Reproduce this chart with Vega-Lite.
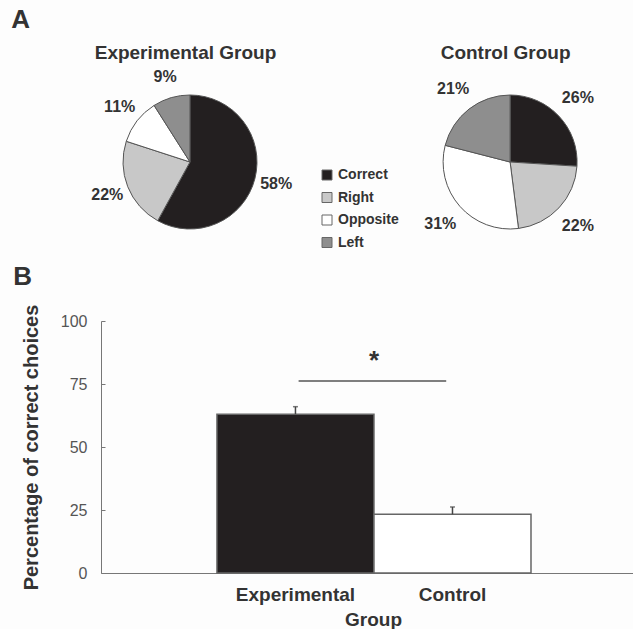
{
  "$schema": "https://vega.github.io/schema/vega-lite/v6.json",
  "background": "#fdfdfd",
  "padding": {"left": 11, "top": 7, "right": 0, "bottom": 0},
  "config": {
    "font": "Liberation Sans",
    "view": {"stroke": null},
    "title": {"color": "#333333", "fontWeight": "bold"}
  },
  "datasets": {
    "choices": [
      {"group": "Experimental", "choice": "Correct", "rank": 1, "share": 0.58},
      {"group": "Experimental", "choice": "Right", "rank": 2, "share": 0.22},
      {"group": "Experimental", "choice": "Opposite", "rank": 3, "share": 0.11},
      {"group": "Experimental", "choice": "Left", "rank": 4, "share": 0.09},
      {"group": "Control", "choice": "Correct", "rank": 1, "share": 0.26},
      {"group": "Control", "choice": "Right", "rank": 2, "share": 0.22},
      {"group": "Control", "choice": "Opposite", "rank": 3, "share": 0.31},
      {"group": "Control", "choice": "Left", "rank": 4, "share": 0.21}
    ],
    "bars": [
      {"group": "Experimental", "mean": 63, "upper": 66},
      {"group": "Control", "mean": 23.3, "upper": 26.2}
    ],
    "significance": [
      {"from": "Experimental", "to": "Control", "level": 76.2, "starLevel": 84, "label": "*"}
    ]
  },
  "title": {"text": "A", "anchor": "start", "fontSize": 26, "dx": -2, "offset": 10},
  "bounds": "flush",
  "spacing": 92,
  "resolve": {"scale": {"color": "independent", "x": "independent"}, "legend": {"color": "independent"}, "axis": {"x": "independent"}},
  "vconcat": [
    {
      "width": 532,
      "height": 134,
      "data": {"name": "choices"},
      "encoding": {
        "x": {
          "field": "group", "type": "nominal", "sort": ["Experimental", "Control"],
          "scale": {"type": "point", "domain": ["Experimental", "Control"], "padding": 0.331, "align": 0.42},
          "axis": {"orient": "top", "title": null, "domain": false, "ticks": false, "labelAngle": 0, "labelLimit": 0, "labelExpr": "datum.label + ' Group'", "labelFontSize": 19, "labelFontWeight": "bold", "labelColor": "#333333", "labelPadding": 33, "labelOffset": -5}
        },
        "theta": {"field": "share", "type": "quantitative", "stack": true},
        "order": {"field": "rank", "type": "quantitative"},
        "color": {
          "field": "choice", "type": "nominal",
          "scale": {"domain": ["Correct", "Right", "Opposite", "Left"], "range": ["#231f20", "#c8c8c8", "#ffffff", "#8e8e8e"]},
          "legend": {"orient": "none", "legendX": 219, "legendY": 73, "title": null, "symbolType": "square", "symbolSize": 100, "symbolStrokeColor": "#666666", "symbolStrokeWidth": 1, "labelFontSize": 14, "labelFontWeight": "bold", "labelColor": "#333333", "rowPadding": 8.5, "labelOffset": 4}
        }
      },
      "layer": [
        {
          "transform": [{"filter": "datum.group === 'Experimental'"}],
          "layer": [
            {"mark": {"type": "arc", "outerRadius": 67, "stroke": "#555555", "strokeWidth": 1}},
            {
              "mark": {"type": "text", "radius": 89, "fontSize": 16, "fontWeight": "bold"},
              "encoding": {
                "color": {"value": "#333333"},
                "detail": {"field": "choice", "type": "nominal"},
                "text": {"field": "share", "type": "quantitative", "format": ".0%"}
              }
            }
          ]
        },
        {
          "transform": [{"filter": "datum.group === 'Control'"}],
          "layer": [
            {"mark": {"type": "arc", "outerRadius": 67, "stroke": "#555555", "strokeWidth": 1}},
            {
              "mark": {"type": "text", "radius": 93, "fontSize": 16, "fontWeight": "bold"},
              "encoding": {
                "color": {"value": "#333333"},
                "detail": {"field": "choice", "type": "nominal"},
                "text": {"field": "share", "type": "quantitative", "format": ".0%"}
              }
            }
          ]
        }
      ]
    },
    {
      "width": 532,
      "height": 252,
      "title": {"text": "B", "anchor": "start", "fontSize": 26, "dx": -8, "offset": 14},
      "encoding": {
        "x": {
          "field": "group", "type": "nominal", "sort": ["Experimental", "Control"],
          "scale": {"domain": ["Experimental", "Control"], "paddingInner": 0, "paddingOuter": 0.694, "align": 0.532},
          "axis": {"title": "Group", "titleX": 272, "labelAngle": 0, "ticks": false, "domainColor": "#777777", "labelFontSize": 19, "labelFontWeight": "bold", "labelColor": "#333333", "labelPadding": 12, "titleFontSize": 19, "titleColor": "#333333", "titlePadding": 6}
        }
      },
      "layer": [
        {
          "data": {"name": "bars"},
          "mark": {"type": "bar", "stroke": "#666666", "strokeWidth": 1.5},
          "encoding": {
            "y": {
              "field": "mean", "type": "quantitative",
              "scale": {"domain": [0, 100], "nice": false},
              "axis": {"title": "Percentage of correct choices", "values": [0, 25, 50, 75, 100], "grid": false, "tickSize": -4, "tickColor": "#777777", "domainColor": "#777777", "labelFontSize": 16, "labelColor": "#555555", "labelPadding": 18, "titleFontSize": 20, "titleColor": "#333333", "titlePadding": 19}
            },
            "color": {
              "field": "group", "type": "nominal",
              "scale": {"domain": ["Experimental", "Control"], "range": ["#231f20", "#ffffff"]},
              "legend": null
            }
          }
        },
        {
          "data": {"name": "bars"},
          "mark": {"type": "rule", "color": "#444444", "strokeWidth": 1.5},
          "encoding": {
            "x": {"field": "group", "type": "nominal", "bandPosition": 0.5},
            "y": {"field": "mean", "type": "quantitative"},
            "y2": {"field": "upper"}
          }
        },
        {
          "data": {"name": "bars"},
          "mark": {"type": "tick", "color": "#444444", "size": 5, "thickness": 1.5},
          "encoding": {
            "y": {"field": "upper", "type": "quantitative"}
          }
        },
        {
          "data": {"name": "significance"},
          "mark": {"type": "rule", "color": "#555555", "strokeWidth": 1.5},
          "encoding": {
            "x": {"field": "from", "type": "nominal", "bandPosition": 0.52},
            "x2": {"field": "to", "bandPosition": 0.46},
            "y": {"field": "level", "type": "quantitative"}
          }
        },
        {
          "data": {"name": "significance"},
          "mark": {"type": "text", "fontSize": 26, "fontWeight": "bold", "color": "#333333", "baseline": "middle"},
          "encoding": {
            "x": {"field": "from", "type": "nominal", "bandPosition": 1},
            "y": {"field": "starLevel", "type": "quantitative"},
            "text": {"field": "label"}
          }
        }
      ]
    }
  ]
}
